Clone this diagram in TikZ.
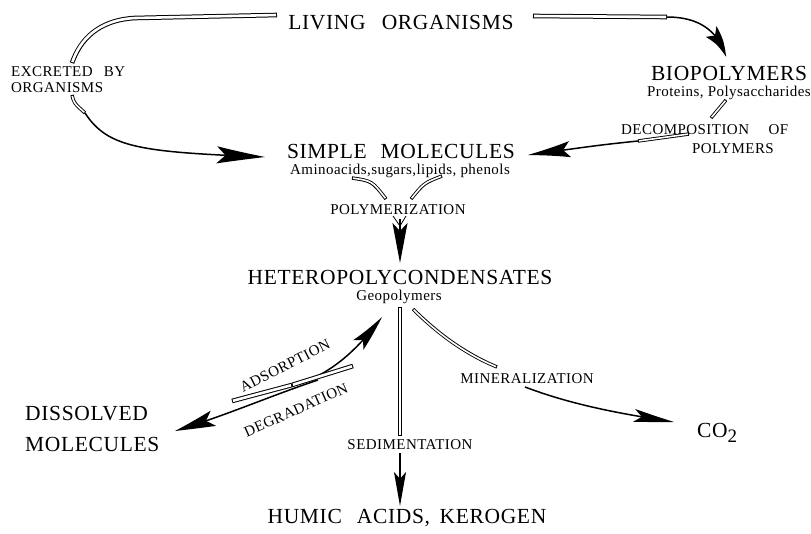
\documentclass[tikz,border=0pt]{standalone}
\usepackage{fontspec}
\setmainfont{Liberation Serif}[LetterSpace=3]
\usetikzlibrary{arrows.meta,bending}
\begin{document}
\begin{tikzpicture}[x=1pt,y=-1pt,
  big/.style={font=\fontsize{21.5}{24}\selectfont, inner sep=0pt},
  small/.style={font=\fontsize{15}{17}\selectfont, inner sep=0pt},
  hollow/.style={draw=white, line width=2.6pt, shorten <=1pt, shorten >=1pt,
    preaction={draw=black, line width=4.6pt, shorten <=0pt, shorten >=0pt}},
  thinhollow/.style={draw=white, line width=1.6pt, shorten <=1pt, shorten >=1pt,
    preaction={draw=black, line width=3.4pt, shorten <=0pt, shorten >=0pt}},
  solidline/.style={draw=black, line width=1.5pt},
  tipA/.style args={#1/#2}{-{Stealth[length=#1,width=#2,inset'=0pt 0.2,bend]}},
]
\useasboundingbox (0,0) rectangle (811,533);

% ---------- labels ----------
\node[big, anchor=base] (living) at (401,29) {LIVING\hspace{0.75em}ORGANISMS};
\node[small, anchor=base west] (excr1) at (11,76) {EXCRETED\hspace{0.75em}BY};
\node[small, anchor=base west] (excr2) at (11,92) {ORGANISMS};
\node[big, anchor=base] (bio) at (729,80) {BIOPOLYMERS};
\node[small, anchor=base] (prot) at (729,96) {Proteins, Polysaccharides};
\node[small, anchor=base west] (decomp1) at (621,134) {DECOMPOSITION\hspace{1.3em}OF};
\node[small, anchor=base] (decomp2) at (733,153) {POLYMERS};
\node[big, anchor=base] (simple) at (401,158) {SIMPLE\hspace{0.65em}MOLECULES};
\node[small, anchor=base] (amino) at (400,174) {Aminoacids,sugars,lipids, phenols};
\node[small, anchor=base] (polym) at (398,214) {POLYMERIZATION};
\node[big, anchor=base] (hetero) at (400,284) {HETEROPOLYCONDENSATES};
\node[small, anchor=base] (geo) at (399,300) {Geopolymers};
\node[small, rotate=27] (ads) at (285,366) {ADSORPTION};
\node[small, rotate=24] (deg) at (296,410) {DEGRADATION};
\node[small, anchor=base] (miner) at (527,383) {MINERALIZATION};
\node[big, anchor=base west] (diss1) at (25,420) {DISSOLVED};
\node[big, anchor=base west] (diss2) at (25,451) {MOLECULES};
\node[small, anchor=base] (sedim) at (410,449) {SEDIMENTATION};
\node[big, anchor=base west] (co2) at (697,437) {CO\raisebox{-5pt}{\fontsize{19}{19}\selectfont 2}};
\node[big, anchor=base] (humic) at (407,523) {HUMIC\hspace{0.7em}ACIDS,\hspace{0.45em}KEROGEN};

% ---------- coordinates ----------
\coordinate (a1s) at (533,16);
\coordinate (a1m) at (667,17);
\coordinate (a1e) at (726,57);

\coordinate (a2s) at (277,15);
\coordinate (a2u) at (72,63);
\coordinate (a2l) at (72,95);
\coordinate (a2m) at (85,113);
\coordinate (a2e) at (265,157);

\coordinate (a3s) at (726,100);
\coordinate (a3u) at (711,118);
\coordinate (a3l) at (689,134);
\coordinate (a3m) at (638,141);
\coordinate (a3e) at (528,155);

\coordinate (a4l) at (352,178);
\coordinate (a4r) at (442,176);
\coordinate (a4lb) at (386,199);
\coordinate (a4rb) at (411,199);
\coordinate (a4vl) at (393,216);
\coordinate (a4vr) at (406,216);
\coordinate (a4v) at (400,226);
\coordinate (a4s) at (400,219);
\coordinate (a4e) at (400,263);

\coordinate (a5s) at (400,307);
\coordinate (a5m) at (400,436);
\coordinate (a5l) at (400,453);
\coordinate (a5e) at (400,506);

\coordinate (a6s) at (413,309);
\coordinate (a6m) at (497,367);
\coordinate (a6l) at (525,387);
\coordinate (a6e) at (674,422);

\coordinate (a7s) at (232,401);
\coordinate (a7m) at (292,385);
\coordinate (a7b) at (282,388);
\coordinate (a7e) at (382,317);

\coordinate (a8s) at (353,366);
\coordinate (a8m) at (292,385);
\coordinate (a8b) at (318,380);
\coordinate (a8e) at (175,431);

% ---------- black parts ----------
\draw[solidline, tipA=32pt/15pt] (a1m) .. controls (698,17) and (718,30) .. (a1e);
\draw[solidline, tipA=52pt/17pt] (a2m) .. controls (108,148) and (140,152) .. (a2e);
\draw[solidline, tipA=50pt/16pt] (a3m) .. controls (600,145) .. (a3e);
\draw[line width=0.8pt] (a4vl) -- (a4v) -- (a4vr);
\draw[solidline, tipA=40pt/15pt] (a4s) -- (a4e);
\draw[solidline, tipA=34pt/12pt] (a5l) -- (a5e);
\draw[solidline, tipA=42pt/13pt] (a6l) .. controls (570,404) and (615,413) .. (a6e);
\draw[solidline, tipA=38pt/14pt] (a7b) .. controls (325,380) and (354,354) .. (a7e);
\draw[solidline, tipA=42pt/16pt] (a8b) .. controls (270,396) and (230,414) .. (a8e);

% ---------- hollow parts ----------
\draw[hollow] (a1s) -- (a1m);
\draw[hollow] (a2s) -- (135,18) .. controls (98,20) and (80,40) .. (a2u);
\draw[thinhollow] (a2l) .. controls (74,103) .. (a2m);
\draw[thinhollow] (a3s) -- (a3u);
\draw[thinhollow] (a3l) -- (a3m);
\draw[thinhollow] (a4l) .. controls (372,181) .. (a4lb);
\draw[thinhollow] (a4r) .. controls (424,183) .. (a4rb);
\draw[thinhollow] (a5s) -- (a5m);
\draw[thinhollow] (a6s) .. controls (440,336) and (468,355) .. (a6m);
\draw[hollow] (a7s) .. controls (262,393) .. (a7m);
\draw[hollow] (a8s) .. controls (322,376) .. (a8m);
\end{tikzpicture}
\end{document}
